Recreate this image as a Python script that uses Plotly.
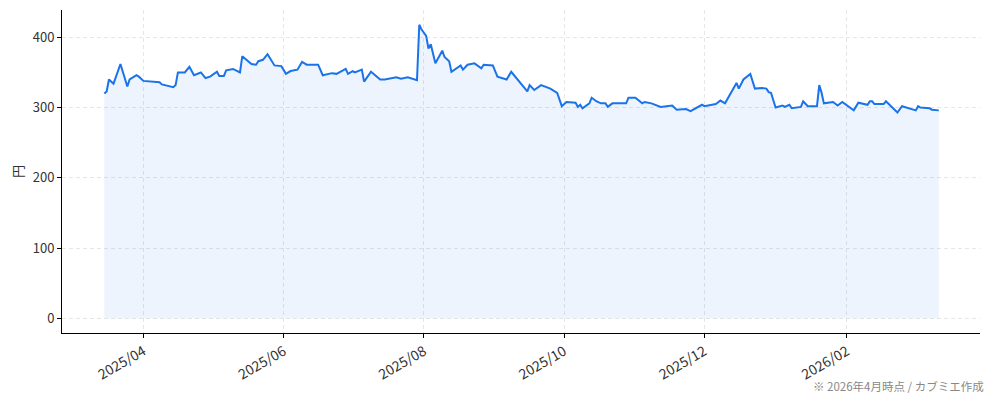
import plotly.graph_objects as go

# 株価（終値の目安）
dates = [
    "2025-03-15", "2025-03-16", "2025-03-17", "2025-03-19", "2025-03-22", "2025-03-25",
    "2025-03-26", "2025-03-29", "2025-03-30", "2025-04-01", "2025-04-08", "2025-04-09",
    "2025-04-14", "2025-04-15", "2025-04-16", "2025-04-19", "2025-04-21", "2025-04-23",
    "2025-04-26", "2025-04-28", "2025-04-30", "2025-05-03", "2025-05-04", "2025-05-06",
    "2025-05-07", "2025-05-10", "2025-05-13", "2025-05-14", "2025-05-18", "2025-05-20",
    "2025-05-21", "2025-05-23", "2025-05-25", "2025-05-28", "2025-05-31", "2025-06-02",
    "2025-06-04", "2025-06-07", "2025-06-09", "2025-06-11", "2025-06-16", "2025-06-18",
    "2025-06-22", "2025-06-24", "2025-06-28", "2025-06-29", "2025-07-01", "2025-07-02",
    "2025-07-05", "2025-07-06", "2025-07-09", "2025-07-13", "2025-07-15", "2025-07-20",
    "2025-07-22", "2025-07-25", "2025-07-29", "2025-07-30", "2025-07-31", "2025-08-02",
    "2025-08-03", "2025-08-04", "2025-08-06", "2025-08-09", "2025-08-10", "2025-08-12",
    "2025-08-13", "2025-08-17", "2025-08-18", "2025-08-20", "2025-08-23", "2025-08-26",
    "2025-08-27", "2025-08-31", "2025-09-02", "2025-09-06", "2025-09-08", "2025-09-15",
    "2025-09-16", "2025-09-18", "2025-09-21", "2025-09-23", "2025-09-25", "2025-09-28",
    "2025-09-30", "2025-10-02", "2025-10-06", "2025-10-07", "2025-10-08", "2025-10-09",
    "2025-10-12", "2025-10-13", "2025-10-15", "2025-10-17", "2025-10-19", "2025-10-20",
    "2025-10-22", "2025-10-28", "2025-10-29", "2025-11-01", "2025-11-04", "2025-11-05",
    "2025-11-08", "2025-11-12", "2025-11-17", "2025-11-19", "2025-11-23", "2025-11-25",
    "2025-11-28", "2025-11-30", "2025-12-01", "2025-12-06", "2025-12-08", "2025-12-10",
    "2025-12-15", "2025-12-16", "2025-12-18", "2025-12-21", "2025-12-23", "2025-12-26",
    "2025-12-28", "2025-12-29", "2025-12-30", "2026-01-01", "2026-01-04", "2026-01-05",
    "2026-01-07", "2026-01-08", "2026-01-12", "2026-01-13", "2026-01-15", "2026-01-19",
    "2026-01-20", "2026-01-21", "2026-01-22", "2026-01-26", "2026-01-28", "2026-01-30",
    "2026-02-04", "2026-02-06", "2026-02-10", "2026-02-11", "2026-02-12", "2026-02-13",
    "2026-02-17", "2026-02-18", "2026-02-23", "2026-02-25", "2026-03-03", "2026-03-04",
    "2026-03-05", "2026-03-09", "2026-03-10", "2026-03-11", "2026-03-13",
]
prices = [
    320, 323, 340, 334, 362, 330,
    340, 346, 344, 338, 336, 333,
    329, 332, 350, 350, 358, 346,
    350, 342, 344, 351, 345, 345,
    353, 355, 350, 373, 362, 361,
    366, 368, 376, 360, 359, 348,
    352, 354, 365, 361, 361, 346,
    349, 348, 355, 348, 352, 350,
    354, 337, 351, 340, 340, 343,
    341, 343, 339, 418, 411, 402,
    384, 390, 363, 381, 372, 366,
    351, 360, 354, 361, 363, 356,
    361, 360, 344, 340, 351, 323,
    332, 325, 332, 329, 327, 321,
    302, 308, 307, 301, 304, 299,
    306, 314, 309, 306, 306, 301,
    306, 306, 314, 314, 306, 308,
    306, 301, 303, 297, 298, 295,
    301, 304, 302, 305, 310, 306,
    335, 327, 340, 348, 327, 328,
    327, 322, 321, 300, 303, 301,
    304, 299, 301, 309, 302, 302,
    332, 321, 306, 308, 303, 308,
    296, 307, 304, 309, 309, 305,
    305, 309, 293, 302, 296, 302,
    300, 299, 297, 297, 296,
]

y_ticks = [0, 100, 200, 300, 400]
note = "※ 2026年4月時点 / カブミエ作成"

blue = "#1a73e8"
font = "Noto Sans CJK JP"
grid = "#e6e6e6"

fig = go.Figure()
fig.add_trace(go.Scatter(x=dates, y=prices, mode="lines", fill="tozeroy",
                         fillcolor="rgba(26,115,232,0.08)", line=dict(width=0),
                         hoverinfo="skip", showlegend=False))
fig.add_trace(go.Scatter(x=dates, y=prices, mode="lines",
                         line=dict(color=blue, width=2), showlegend=False))

# the page body adds ~7px around the figure, so margins are shifted a bit
fig.update_layout(
    width=994, height=401,
    margin=dict(l=54, r=22, t=2, b=76),
    plot_bgcolor="white", paper_bgcolor="white",
    font=dict(family=font, size=13, color="#333"),
    annotations=[dict(text=note, xref="paper", yref="paper", x=1.0, y=-0.165,
                      xanchor="right", yanchor="middle", xshift=6, showarrow=False,
                      font=dict(size=11.5, color="#888"))],
)
fig.update_xaxes(
    type="date", range=["2025-02-24 14:00", "2026-03-30 22:00"],
    tick0="2025-04-01", dtick="M2", tickformat="%Y/%m", tickangle=-30,
    tickfont=dict(size=14), automargin=False,
    showline=True, linecolor="black", linewidth=1,
    ticks="outside", ticklen=4, tickcolor="black",
    showgrid=True, gridcolor=grid, griddash="4px,3px", gridwidth=0.8,
    zeroline=False,
)
fig.update_yaxes(
    range=[-20.9, 438.9], tickvals=y_ticks, automargin=False,
    title=dict(text="円", standoff=18, font=dict(size=13)),
    showline=True, linecolor="black", linewidth=1,
    ticks="outside", ticklen=4, tickcolor="black",
    showgrid=True, gridcolor=grid, griddash="4px,3px", gridwidth=0.8,
    zeroline=False,
)

fig.write_html("out.html")
